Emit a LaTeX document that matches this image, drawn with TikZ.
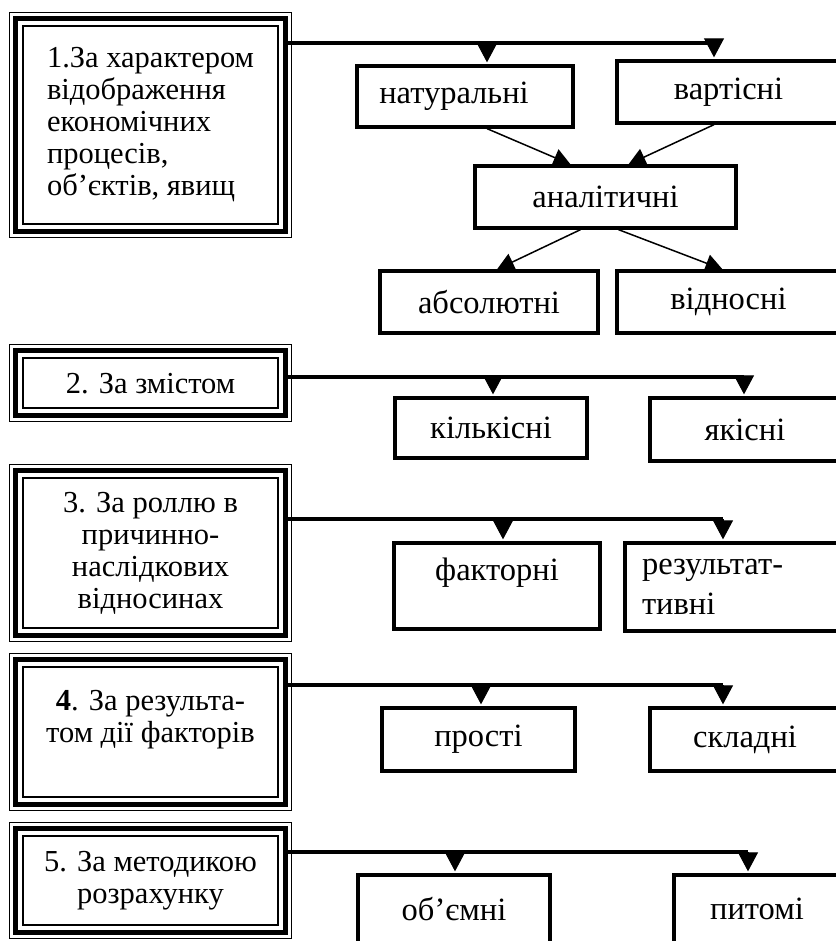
\documentclass[tikz,border=0pt]{standalone}
\usepackage{fontspec}
\setmainfont{Liberation Serif}
\usetikzlibrary{arrows.meta}

\tikzset{
  mainbox/.style={draw, line width=1.5pt, minimum width=255pt, inner sep=0pt, align=center, font=\fontsize{30.5}{32}\selectfont},
  leaf/.style={draw, line width=3.3pt, inner sep=0pt, align=center, font=\fontsize{32.5}{34}\selectfont},
  bus/.style={line width=3.5pt},
  down/.style={line width=1pt, -{Triangle[length=19pt,width=20pt]}, shorten >=2pt},
  slant/.style={line width=1.5pt, -{Triangle[length=17pt,width=18pt]}}
}

\begin{document}
\begin{tikzpicture}[x=1pt,y=-1pt]
  \useasboundingbox (0,0) rectangle (835,941);

  % classification criteria
  \node[mainbox, minimum height=198pt, align=left] (m1) at (150.5,125) {1.За характером\\відображення\\економічних\\процесів,\\об’єктів, явищ};
  \node[mainbox, minimum height=50pt, text depth=0pt] (m2) at (150.5,383) {2. За змістом};
  \node[mainbox, minimum height=150pt] (m3) at (150.5,553) {3. За роллю в\\причинно-\\наслідкових\\відносинах};
  \node[mainbox, minimum height=130pt] (m4) at (150.5,732) {\textbf{4}. За результа-\\том дії факторів\\\mbox{}};
  \node[mainbox, minimum height=89pt] (m5) at (150.5,880.5) {5. За методикою\\розрахунку};

  \foreach \m in {m1,m2,m3,m4,m5} {
    \draw[line width=5pt] ([shift={(-7pt,7pt)}]\m.north west) rectangle ([shift={(7pt,-7pt)}]\m.south east);
    \draw[line width=1.3pt] ([shift={(-13pt,13pt)}]\m.north west) rectangle ([shift={(13pt,-13pt)}]\m.south east);
  }

  % kinds
  \node[leaf, minimum width=216pt, minimum height=61pt] (nat) at (465,96.5) {натуральні\hspace*{22pt}};
  \node[leaf, minimum width=223pt, minimum height=62pt] (var) at (728.5,92) {вартісні};
  \node[leaf, minimum width=261pt, minimum height=62pt] (anal) at (605.5,197) {аналітичні};
  \node[leaf, minimum width=218pt, minimum height=62pt] (abs) at (489,302) {абсолютні};
  \node[leaf, minimum width=223pt, minimum height=62pt] (vid) at (728.5,302) {відносні};
  \node[leaf, minimum width=192pt, minimum height=60pt] (kil) at (491,428) {кількісні};
  \node[leaf, minimum width=190pt, minimum height=63pt] (yak) at (745,429.5) {якісні};
  \node[leaf, minimum width=206pt, minimum height=86pt] (fak) at (497,586) {факторні\\\mbox{}};
  \node[leaf, align=left, text width=181pt, inner xsep=17pt, minimum height=88pt] (rez) at (732.5,587) {результат-\\[6pt]тивні};
  \node[leaf, minimum width=193pt, minimum height=63pt] (pro) at (478.5,739.5) {прості};
  \node[leaf, minimum width=190pt, minimum height=63pt] (skl) at (745,739.5) {складні};
  \node[leaf, minimum width=192pt, minimum height=68pt] (obj) at (454,909) {об’ємні};
  \node[leaf, minimum width=166pt, minimum height=68pt] (pyt) at (757,909) {питомі};

  \coordinate (a11) at (487,43);  \coordinate (a12) at (714,43);
  \coordinate (a21) at (493,377); \coordinate (a22) at (744,377);
  \coordinate (a31) at (503,519); \coordinate (a32) at (723,519);
  \coordinate (a41) at (481,685); \coordinate (a42) at (723,685);
  \coordinate (a51) at (455,852); \coordinate (a52) at (748,852);

  \foreach \m/\a/\b in {m1/a11/a12, m2/a21/a22, m3/a31/a32, m4/a41/a42, m5/a51/a52}
    \draw[bus] ([xshift=7pt]\m.east |- \a) -- (\b);

  \foreach \a/\n in {a11/nat, a12/var, a21/kil, a22/yak, a31/fak, a32/rez, a41/pro, a42/skl, a51/obj, a52/pyt}
    \draw[down] (\a) -- (\a |- \n.north);

  \draw[slant] (a11 |- nat.south) -- ([xshift=-35pt]anal.north);
  \draw[slant] (a12 |- var.south) -- ([xshift=23pt]anal.north);
  \draw[slant] ([xshift=-25pt]anal.south) -- ([xshift=8pt]abs.north);
  \draw[slant] ([xshift=13pt]anal.south) -- ([xshift=-6pt]vid.north);

\end{tikzpicture}
\end{document}
